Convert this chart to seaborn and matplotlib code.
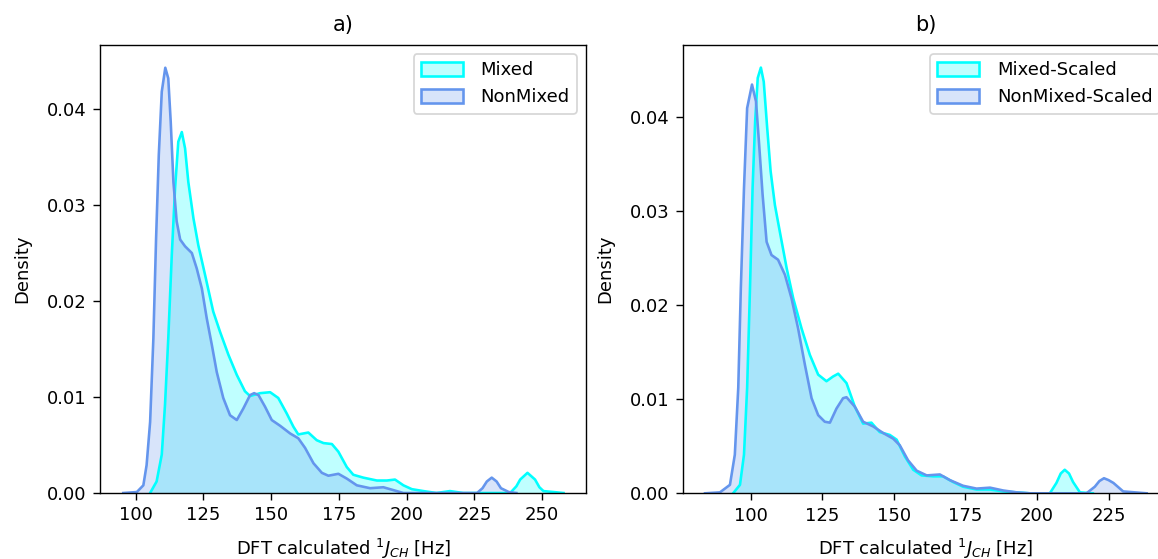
import matplotlib
matplotlib.use("Agg")
import matplotlib.pyplot as plt
from matplotlib.patches import Patch
import seaborn as sns

# ---- Data (KDE density curves) ----
# Panel a) Mixed
a_mixed_x = [105.3, 107.7, 109.6, 110.8, 112.0, 113.3, 114.5, 115.7, 117.0, 118.2, 119.4, 121.3,
             123.1, 125.6, 128.6, 131.1, 134.2, 137.3, 140.3, 142.2, 145.9, 149.6, 152.6, 155.7,
             158.2, 160.0, 163.7, 166.8, 169.3, 172.4, 174.8, 177.9, 180.3, 184.0, 189.0, 192.7,
             195.7, 198.8, 201.9, 206.2, 211.0, 216.0, 220.9, 238.2, 240.5, 241.9, 244.6, 247.4,
             249.0, 250.5, 257.9]
a_mixed_y = [0.0, 0.0012, 0.0040, 0.0092, 0.0161, 0.0248, 0.0317, 0.0366, 0.0376, 0.0359, 0.0324, 0.0286,
             0.0258, 0.0227, 0.0189, 0.0168, 0.0144, 0.0123, 0.0106, 0.0101, 0.0104, 0.0105, 0.0099, 0.0083,
             0.0069, 0.0061, 0.0063, 0.0055, 0.0052, 0.0051, 0.0043, 0.0027, 0.0019, 0.0016, 0.0013, 0.0013,
             0.0014, 0.0008, 0.0004, 0.0002, 0.0, 0.0002, 0.0, 0.0, 0.0007, 0.0014, 0.0021, 0.0014,
             0.0006, 0.0002, 0.0]
# Panel a) NonMixed
a_nonmixed_x = [95.4, 100.4, 102.8, 104.0, 105.3, 106.5, 107.5, 108.5, 109.6, 110.9, 112.0, 112.9,
                113.9, 115.1, 116.4, 118.2, 120.7, 122.5, 124.4, 126.2, 128.1, 129.9, 132.3, 134.8,
                137.3, 139.7, 142.2, 143.7, 145.3, 147.7, 150.2, 153.3, 157.0, 160.0, 162.5, 165.6,
                168.7, 171.1, 174.8, 177.9, 181.6, 186.5, 191.4, 195.1, 198.8, 226.0, 228.0, 229.6,
                231.4, 233.2, 234.8, 237.7, 240.5]
a_nonmixed_y = [0.0, 0.0001, 0.0008, 0.0029, 0.0074, 0.0161, 0.0265, 0.0352, 0.0418, 0.0443, 0.0432, 0.0387,
                0.0324, 0.0283, 0.0264, 0.0257, 0.0250, 0.0234, 0.0213, 0.0182, 0.0154, 0.0126, 0.0099, 0.0081,
                0.0076, 0.0088, 0.0102, 0.0104, 0.0102, 0.0090, 0.0076, 0.0070, 0.0062, 0.0057, 0.0047, 0.0031,
                0.0021, 0.0018, 0.0020, 0.0015, 0.0008, 0.0005, 0.0006, 0.0003, 0.0, 0.0, 0.0005, 0.0012,
                0.0016, 0.0012, 0.0005, 0.0001, 0.0]
# Panel b) Mixed-Scaled
b_mixed_x = [93.9, 96.3, 97.7, 98.8, 99.8, 100.7, 101.6, 102.5, 103.6, 104.6, 105.8, 107.0,
             108.5, 110.2, 112.6, 114.9, 117.8, 120.7, 123.6, 126.5, 128.8, 130.6, 133.5, 136.4,
             139.3, 142.2, 145.1, 148.6, 151.0, 153.9, 156.8, 159.7, 163.8, 167.2, 170.7, 174.2,
             178.9, 183.6, 188.2, 192.9, 197.5, 204.5, 206.8, 208.3, 209.7, 211.2, 212.6, 215.0,
             219.5]
b_mixed_y = [0.0, 0.0009, 0.0041, 0.0112, 0.0218, 0.0324, 0.0395, 0.0441, 0.0452, 0.0437, 0.0388, 0.0342,
             0.0306, 0.0278, 0.0239, 0.0207, 0.0175, 0.0147, 0.0126, 0.0119, 0.0124, 0.0127, 0.0117, 0.0092,
             0.0074, 0.0075, 0.0065, 0.0062, 0.0057, 0.0039, 0.0025, 0.0019, 0.0018, 0.0018, 0.0012, 0.0007,
             0.0004, 0.0004, 0.0002, 0.0001, 0.0, 0.0, 0.0011, 0.0021, 0.0025, 0.0021, 0.0012, 0.0001,
             0.0]
# Panel b) NonMixed-Scaled
b_nonmixed_x = [84.1, 89.3, 92.8, 94.5, 95.7, 96.6, 97.7, 98.8, 100.5, 101.9, 103.0, 104.2,
                105.6, 107.3, 109.6, 112.0, 114.3, 116.6, 119.0, 121.3, 123.6, 125.9, 127.7, 130.0,
                132.3, 133.5, 136.4, 139.3, 142.8, 146.3, 149.8, 152.1, 155.0, 158.0, 161.5, 166.1,
                169.6, 174.2, 178.9, 183.6, 188.2, 192.9, 197.5, 217.3, 220.2, 221.8, 223.4, 225.0,
                226.7, 230.1, 238.3]
b_nonmixed_y = [0.0, 0.0001, 0.0009, 0.0041, 0.0112, 0.0218, 0.0324, 0.0409, 0.0434, 0.0416, 0.0370, 0.0317,
                0.0267, 0.0253, 0.0248, 0.0232, 0.0207, 0.0175, 0.0136, 0.0101, 0.0083, 0.0076, 0.0075, 0.0090,
                0.0101, 0.0102, 0.0092, 0.0076, 0.0071, 0.0064, 0.0058, 0.0051, 0.0035, 0.0024, 0.0019, 0.0020,
                0.0014, 0.0008, 0.0005, 0.0006, 0.0003, 0.0001, 0.0, 0.0, 0.0007, 0.0013, 0.0016, 0.0014,
                0.0011, 0.0002, 0.0]

titles = ["a)", "b)"]
labels_a = ["Mixed", "NonMixed"]
labels_b = ["Mixed-Scaled", "NonMixed-Scaled"]
xticks_a = [100, 125, 150, 175, 200, 225, 250]
xticks_b = [100, 125, 150, 175, 200, 225]
yticks = [0.00, 0.01, 0.02, 0.03, 0.04]
xlabel = r"DFT calculated $^{1}J_{CH}$ [Hz]"
ylabel = "Density"

# ---- Styling ----
C_MIX = "#00FFFF"
C_NON = "#6495ED"
DPI = 125
W, H = 1158, 559
plt.rcParams["font.family"] = ["DejaVu Sans"]
plt.rcParams["font.size"] = 10.4
plt.rcParams["xtick.major.size"] = 4.2
plt.rcParams["ytick.major.size"] = 4.2

fig = plt.figure(figsize=(W / DPI, H / DPI), dpi=DPI)
ax1 = fig.add_axes([100 / W, (H - 493) / H, 486 / W, 448 / H])
ax2 = fig.add_axes([682.7 / W, (H - 493.3) / H, 486 / W, 448.3 / H])


def draw(ax, curves, labels, title, xlim, ylim, xticks):
    handles = []
    for (xs, ys), lab, col in zip(curves, labels, [C_MIX, C_NON]):
        ax.fill_between(xs, ys, 0, color=col, alpha=0.25, linewidth=0)
        sns.lineplot(x=xs, y=ys, ax=ax, color=col, linewidth=1.5, sort=False,
                     solid_joinstyle="round")
        handles.append(Patch(facecolor=(*matplotlib.colors.to_rgb(col), 0.25),
                             edgecolor=col, linewidth=1.5, label=lab))
    ax.set_xlim(*xlim)
    ax.set_ylim(*ylim)
    ax.set_xticks(xticks)
    ax.set_yticks(yticks)
    ax.set_title(title, fontsize=12, pad=8)
    ax.set_xlabel(xlabel, labelpad=7)
    ax.set_ylabel(ylabel, labelpad=9)
    ax.legend(handles=handles, loc="upper right", handlelength=2.3,
              handleheight=0.8, handletextpad=1.0)


draw(ax1, [(a_mixed_x, a_mixed_y), (a_nonmixed_x, a_nonmixed_y)], labels_a, titles[0],
     (86.8, 266.2), (0, 0.04667), xticks_a)
draw(ax2, [(b_mixed_x, b_mixed_y), (b_nonmixed_x, b_nonmixed_y)], labels_b, titles[1],
     (76.3, 246.0), (0, 0.0476), xticks_b)

fig.savefig("out.png", dpi=DPI)
